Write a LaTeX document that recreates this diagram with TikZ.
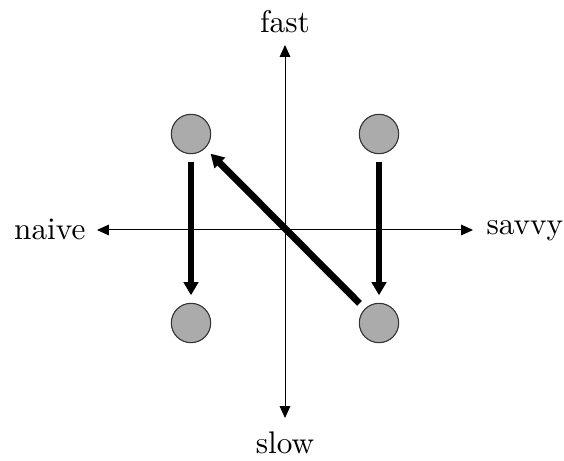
\documentclass[tikz,border=0pt]{standalone}
\usetikzlibrary{arrows.meta}
\begin{document}
\begin{tikzpicture}[x=0.32pt,y=-0.32pt,
  dot/.style={circle,draw=black!80,line width=0.35pt,fill=black!33,inner sep=0pt,minimum size=12.6pt},
  axis/.style={line width=0.32pt,{Triangle[length=3.8pt,width=3.4pt]}-{Triangle[length=3.8pt,width=3.4pt]}},
  move/.style={line width=2.2pt,-{Triangle[length=4.2pt,width=4.6pt]},shorten >=2.4pt,shorten <=2.4pt},
  lbl/.style={font=\fontsize{10}{12}\selectfont,inner sep=0pt}]
\useasboundingbox (0,0) rectangle (564,461);
\coordinate (L) at (97,230);
\coordinate (R) at (473,230);
\coordinate (T) at (285,45);
\coordinate (B) at (285,418);
\draw[axis] (L) -- (R);
\draw[axis] (B) -- (T);
\node[lbl,anchor=base] (fast) at (285,33) {fast};
\node[lbl,anchor=base] (slow) at (285,453) {slow};
\node[lbl,anchor=base east] (naive) at (86,240) {naive};
\node[lbl,anchor=base west] (savvy) at (486,235) {savvy};
\node[dot] (tl) at (191,134) {};
\node[dot] (tr) at (379,134) {};
\node[dot] (bl) at (191,323) {};
\node[dot] (br) at (379,323) {};
\draw[move] (tl) -- (bl);
\draw[move] (tr) -- (br);
\draw[move] (br) -- (tl);
\end{tikzpicture}
\end{document}
